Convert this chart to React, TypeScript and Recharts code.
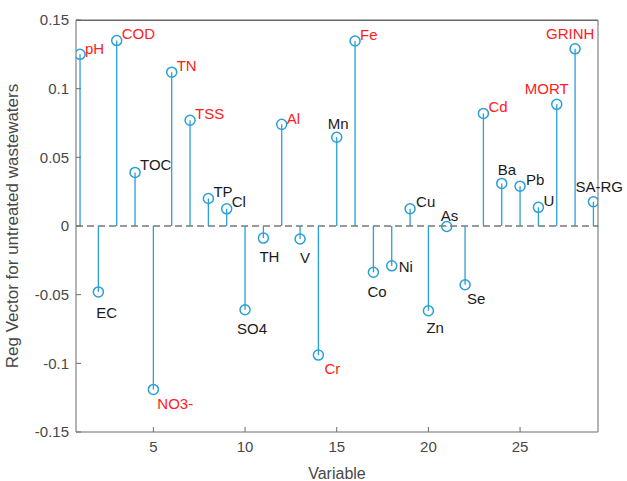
import { ComposedChart, Scatter, XAxis, YAxis, ReferenceLine, ReferenceArea, LabelList, Label } from "recharts";

// variable index 1..29
const variables = [1, 2, 3, 4, 5, 6, 7, 8, 9, 10, 11, 12, 13, 14, 15, 16, 17, 18, 19, 20, 21, 22, 23, 24, 25, 26, 27, 28, 29];
const names = ["pH", "EC", "COD", "TOC", "NO3-", "TN", "TSS", "TP", "Cl", "SO4", "TH", "Al", "V", "Cr", "Mn", "Fe", "Co", "Ni", "Cu", "Zn", "As", "Se", "Cd", "Ba", "Pb", "U", "MORT", "GRINH", "SA-RG"];
const regVector = [0.125, -0.048, 0.135, 0.039, -0.119, 0.112, 0.077, 0.02, 0.0125, -0.061, -0.0088, 0.074, -0.0095, -0.094, 0.0646, 0.1347, -0.0337, -0.029, 0.0126, -0.0617, -0.0004, -0.0428, 0.082, 0.031, 0.029, 0.0136, 0.0886, 0.129, 0.0177];
const highlighted = ["pH", "COD", "NO3-", "TN", "TSS", "Al", "Cr", "Fe", "Cd", "MORT", "GRINH"];
const yTicks = [-0.15, -0.1, -0.05, 0, 0.05, 0.1, 0.15];
const xTicks = [5, 10, 15, 20, 25];
const xDomain: [number, number] = [0.78, 29.25];
const yDomain: [number, number] = [-0.15, 0.15];

// label offsets from marker centre (px), per variable
const labelOffsets: [number, number][] = [
  [5, -6], [-2, 21], [5, -7], [5, -8], [4, 14], [5, -7], [5, -7], [5, -7], [5, -7], [-8, 19],
  [-4, 18], [5, -6], [0, 18], [6, 13], [-9, -14], [5, -7], [-6, 19], [7, 1], [6, -7], [-2, 17],
  [-6, -11], [2, 14], [5, -7], [-4, -14], [6, -7], [5, -7], [-32, -16], [-29, -15], [-18, -15],
];

const data = variables.map((x, i) => ({ x, y: regVector[i], name: names[i] }));

const BLUE = "#2a9fd8";
const AXIS = "#6b6b6b";
const FONT = "'Liberation Sans', Arial, sans-serif";

const Marker = (props: any) => (
  <circle cx={props.cx} cy={props.cy} r={5} fill="none" stroke={BLUE} strokeWidth={1.5} />
);

const PointLabel = (props: any) => {
  const { x, y, width, height, index } = props;
  const cx = x + (width || 0) / 2;
  const cy = y + (height || 0) / 2;
  const [dx, dy] = labelOffsets[index];
  const name = names[index];
  return (
    <text
      x={cx + dx}
      y={cy + dy}
      textAnchor="start"
      dominantBaseline="central"
      fontFamily={FONT}
      fontSize={15}
      fill={highlighted.includes(name) ? "#ff2020" : "#1a1a1a"}
    >
      {name}
    </text>
  );
};

const tickStyle = { fill: "#484848", fontSize: 15, fontFamily: FONT };

export default function App() {
  return (
    <div style={{ position: "absolute", left: 0, top: 0, background: "#fff" }}>
      <ComposedChart width={627} height={481} margin={{ top: 20, right: 29, left: 0, bottom: 0 }}>
        <XAxis
          type="number"
          dataKey="x"
          domain={xDomain}
          ticks={xTicks}
          allowDataOverflow
          height={49}
          stroke={AXIS}
          tickSize={-5}
          tickMargin={14}
          tick={tickStyle}
        >
          <Label value="Variable" position="insideBottom" offset={2} style={{ fill: "#484848", fontSize: 16, fontFamily: FONT }} />
        </XAxis>
        <YAxis
          type="number"
          domain={yDomain}
          ticks={yTicks}
          width={76}
          stroke={AXIS}
          tickSize={-5}
          tickMargin={12}
          tick={tickStyle}
          tickFormatter={(v: number) => String(v)}
        >
          <Label
            value="Reg Vector for untreated wastewaters"
            angle={-90}
            position="insideLeft"
            offset={12}
            style={{ textAnchor: "middle", fill: "#484848", fontSize: 17, fontFamily: FONT }}
          />
        </YAxis>
        {/* box: top edge as a thin filled strip, right edge as a line */}
        <ReferenceArea
          x1={xDomain[0]}
          x2={xDomain[1]}
          y1={0.1493}
          y2={yDomain[1]}
          fill={AXIS}
          fillOpacity={1}
          stroke="none"
          ifOverflow="visible"
        />
        <ReferenceLine y={yDomain[1]} stroke={AXIS} strokeWidth={1} ifOverflow="visible" />
        <ReferenceLine x={xDomain[1]} stroke={AXIS} strokeWidth={1} ifOverflow="visible" />
        <ReferenceLine y={0} stroke="#333" strokeDasharray="7 4" strokeWidth={1} />
        {data.map((d) => (
          <ReferenceLine
            key={d.name}
            segment={[{ x: d.x, y: 0 }, { x: d.x, y: d.y }]}
            stroke={BLUE}
            strokeWidth={1.3}
          />
        ))}
        <Scatter data={data} dataKey="y" shape={<Marker />} isAnimationActive={false}>
          <LabelList dataKey="name" content={<PointLabel />} />
        </Scatter>
      </ComposedChart>
    </div>
  );
}
